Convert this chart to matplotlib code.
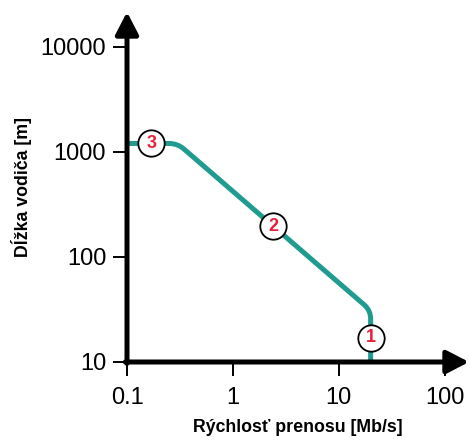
import matplotlib.pyplot as plt
import numpy as np
from matplotlib.path import Path
from matplotlib.patches import PathPatch

plt.rcParams['font.family'] = ['Liberation Sans', 'DejaVu Sans']

# krivka: rychlost [Mb/s] vs. dlzka vodica [m]
rychlost = [0.1, 0.3, 20, 20]
dlzka = [1200, 1200, 31, 10]

# ocislovane body
bod_x = [20, 2.4, 0.17]
bod_y = [17, 195, 1200]
bod_text = ['1', '2', '3']

xticks = [0.1, 1, 10, 100]
xlabels = ['0.1', '1', '10', '100']
yticks = [10, 100, 1000, 10000]
ylabels = ['10', '100', '1000', '10000']

fig = plt.figure(figsize=(4.69, 4.45), dpi=100)
ax = fig.add_axes([127 / 469, 83 / 445, 342 / 469, 350 / 445])
ax.set_xscale('log')
ax.set_yscale('log')
ax.set_xlim(0.1, 10 ** 2.23)
ax.set_ylim(10, 10 ** 4.33)

# zaoblene rohy krivky (v log priestore)
lx = np.log10(rychlost)
ly = np.log10(dlzka)
verts = [(lx[0], ly[0])]
codes = [Path.MOVETO]
r = 0.08
for i in range(1, len(lx) - 1):
    p = np.array([lx[i], ly[i]])
    a = np.array([lx[i - 1], ly[i - 1]])
    b = np.array([lx[i + 1], ly[i + 1]])
    pa = p + (a - p) / np.linalg.norm(a - p) * r
    pb = p + (b - p) / np.linalg.norm(b - p) * r
    verts += [tuple(pa), tuple(p), tuple(pb)]
    codes += [Path.LINETO, Path.CURVE3, Path.CURVE3]
verts.append((lx[-1], ly[-1]))
codes.append(Path.LINETO)
verts = [(10 ** vx, 10 ** vy) for vx, vy in verts]
ax.add_patch(PathPatch(Path(verts, codes), fill=False, edgecolor='#1f9b90',
                       lw=3.6, capstyle='butt', joinstyle='round', zorder=2))

for x, y, t in zip(bod_x, bod_y, bod_text):
    ax.plot(x, y, 'o', ms=19, mfc='white', mec='black', mew=1.3, zorder=3)
    ax.text(x, y, t, color='#e8203a', fontsize=13, fontweight='bold',
            ha='center', va='center', zorder=4)

for s in ax.spines.values():
    s.set_visible(False)

# osi so sipkami
sipka = dict(arrowstyle='-|>,head_length=1.35,head_width=0.7',
             lw=3.6, color='black', shrinkA=0, shrinkB=0)
ax.annotate('', xy=(0, 1), xytext=(0, -0.004), xycoords='axes fraction',
            arrowprops=sipka, zorder=5)
ax.annotate('', xy=(1, 0), xytext=(-0.005, 0), xycoords='axes fraction',
            arrowprops=sipka, zorder=5)

ax.set_xticks(xticks)
ax.set_xticklabels(xlabels)
ax.set_yticks(yticks)
ax.set_yticklabels(ylabels)
ax.minorticks_off()
ax.tick_params(length=10, width=1.4, labelsize=17, pad=5)
ax.tick_params(axis='x', pad=8)

ax.set_xlabel('Rýchlosť prenosu [Mb/s]', fontsize=12.8, fontweight='bold', labelpad=7)
ax.set_ylabel('Dĺžka vodiča [m]', fontsize=12.8, fontweight='bold', labelpad=6)

fig.savefig('out.png', dpi=100)
